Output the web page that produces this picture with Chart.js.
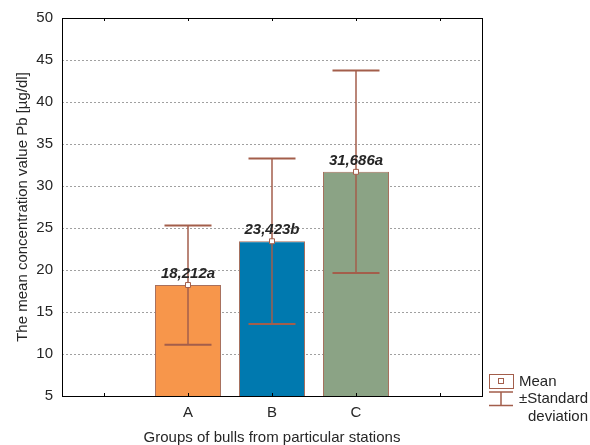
<!DOCTYPE html>
<html>
<head>
<meta charset="utf-8">
<script src="https://cdn.jsdelivr.net/npm/chart.js@4/dist/chart.umd.min.js"></script>
<style>
html,body{margin:0;padding:0;background:#fff;}
#wrap{width:590px;height:445px;position:relative;}
</style>
</head>
<body>
<div id="wrap"><canvas id="c" width="590" height="445"></canvas></div>
<script>
const categories = ['', 'A', 'B', 'C', ''];
const means = [null, 18.212, 23.423, 31.686, null];
const sds = [null, 7.1, 9.85, 12.05, null];
const meanLabels = ['', '18,212a', '23,423b', '31,686a', ''];
const barColors = ['#000000', '#F7964B', '#0079AF', '#8BA385', '#000000'];
const yTicks = [5, 10, 15, 20, 25, 30, 35, 40, 45, 50];

const ERR = '#A35E4B';
const TXT = '#262626';
const FONT = "Arial, 'Liberation Sans', sans-serif";

const errorBars = {
  id: 'errorBars',
  afterDatasetDraw(chart, args) {
    if (args.index !== 0) return;
    const ctx = chart.ctx;
    const xs = chart.scales.x, ys = chart.scales.y;
    ctx.save();
    ctx.strokeStyle = ERR;
    for (let i = 0; i < means.length; i++) {
      if (means[i] == null) continue;
      const x = xs.getPixelForValue(i);
      const yt = ys.getPixelForValue(means[i] + sds[i]);
      const yb = ys.getPixelForValue(means[i] - sds[i]);
      ctx.lineWidth = 1.5;
      ctx.beginPath();
      ctx.moveTo(x, yt); ctx.lineTo(x, yb);
      ctx.stroke();
      ctx.lineWidth = 2;
      ctx.beginPath();
      ctx.moveTo(x - 23.5, yt); ctx.lineTo(x + 23.5, yt);
      ctx.moveTo(x - 23.5, yb); ctx.lineTo(x + 23.5, yb);
      ctx.stroke();
    }
    ctx.restore();
  },
  afterDraw(chart) {
    const ctx = chart.ctx;
    const a = chart.chartArea;
    const xs = chart.scales.x, ys = chart.scales.y;
    ctx.save();
    // frame
    ctx.strokeStyle = '#000';
    ctx.lineWidth = 1;
    ctx.strokeRect(Math.round(a.left) + 0.5, Math.round(a.top) + 0.5, Math.round(a.right - a.left), Math.round(a.bottom - a.top));
    // inward ticks top/bottom
    ctx.beginPath();
    for (let i = 0; i < categories.length; i++) {
      const x = Math.round(xs.getPixelForValue(i)) + 0.5;
      ctx.moveTo(x, a.bottom); ctx.lineTo(x, a.bottom - 3);
      ctx.moveTo(x, a.top); ctx.lineTo(x, a.top + 3);
    }
    ctx.stroke();
    // value labels
    ctx.fillStyle = TXT;
    ctx.font = "italic bold 15px " + FONT;
    ctx.textAlign = 'center';
    ctx.textBaseline = 'alphabetic';
    for (let i = 0; i < means.length; i++) {
      if (means[i] == null) continue;
      const x = xs.getPixelForValue(i);
      const y = ys.getPixelForValue(means[i]);
      ctx.fillText(meanLabels[i], x, y - 7);
    }
    // legend
    const lx = 489, ly = 374;
    ctx.strokeStyle = ERR;
    ctx.lineWidth = 1;
    ctx.strokeRect(lx + 0.5, ly + 0.5, 24, 14);
    ctx.fillStyle = '#fff';
    ctx.fillRect(lx + 9, ly + 4, 6, 6);
    ctx.strokeRect(lx + 9.5, ly + 4.5, 5, 5);
    ctx.lineWidth = 1.5;
    ctx.beginPath();
    ctx.moveTo(lx, 392); ctx.lineTo(lx + 24, 392);
    ctx.moveTo(lx, 405.5); ctx.lineTo(lx + 24, 405.5);
    ctx.moveTo(lx + 12, 392); ctx.lineTo(lx + 12, 405.5);
    ctx.stroke();
    ctx.fillStyle = TXT;
    ctx.font = "15px " + FONT;
    ctx.textAlign = 'left';
    ctx.textBaseline = 'middle';
    ctx.fillText('Mean', 519, 382);
    ctx.fillText('\u00B1Standard', 519, 399);
    ctx.fillText('deviation', 528, 417);
    ctx.restore();
  }
};

new Chart(document.getElementById('c'), {
  type: 'bar',
  data: {
    labels: categories,
    datasets: [
      {
        type: 'bar',
        data: means,
        backgroundColor: barColors,
        borderColor: '#A7705E',
        borderWidth: 1,
        borderSkipped: false,
        barPercentage: 0.786,
        categoryPercentage: 1,
        order: 2
      },
      {
        type: 'line',
        data: means,
        showLine: false,
        pointStyle: 'rect',
        pointRadius: 3.5,
        pointBackgroundColor: '#fff',
        pointBorderColor: ERR,
        pointBorderWidth: 1,
        order: 1
      }
    ]
  },
  plugins: [errorBars],
  options: {
    responsive: false,
    animation: false,
    events: [],
    layout: { padding: { left: 0, top: 17, right: 108, bottom: 0 } },
    plugins: { legend: { display: false }, tooltip: { enabled: false } },
    scales: {
      x: {
        offset: true,
        grid: { display: false, drawTicks: false },
        border: { display: false },
        ticks: { color: TXT, font: { family: FONT, size: 15 }, padding: 8, maxRotation: 0 },
        title: { display: true, text: 'Groups of bulls from particular stations', color: TXT, font: { family: FONT, size: 15 }, padding: { top: 0, bottom: -2 } },
        afterFit(s) { s.height = 49; }
      },
      y: {
        min: 5, max: 50,
        afterBuildTicks(s) { s.ticks = yTicks.map(v => ({ value: v })); },
        grid: { color: '#A0A0A0', lineWidth: 1, drawTicks: false },
        border: { display: false, dash: [2, 2] },
        ticks: { color: TXT, font: { family: FONT, size: 15 }, padding: 9 },
        title: { display: true, text: 'The mean concentration value Pb [\u00B5g/dl]', color: TXT, font: { family: FONT, size: 15 }, padding: { top: 14, bottom: 0 } },
        afterFit(s) { s.width = 62; }
      }
    }
  }
});
</script>
</body>
</html>
